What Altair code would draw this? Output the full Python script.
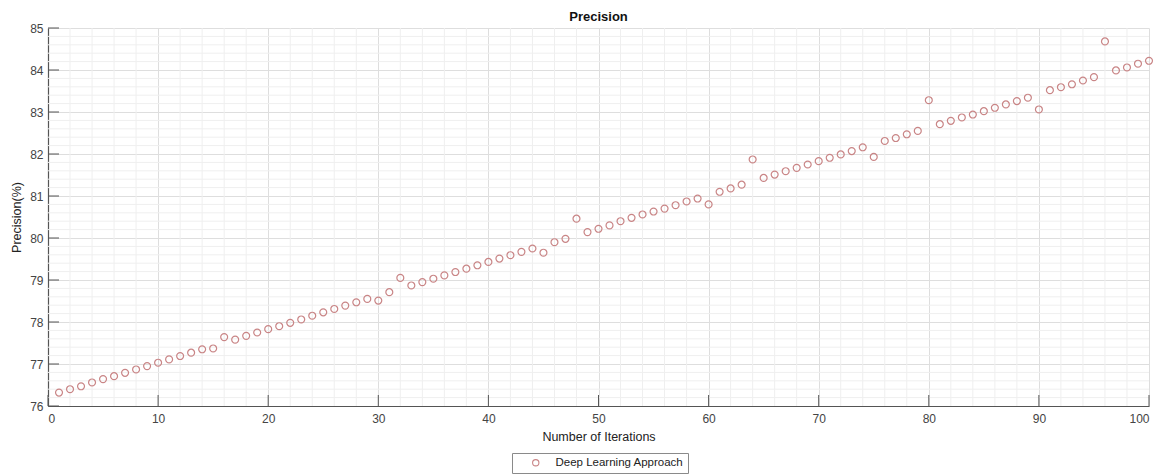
import altair as alt
import pandas as pd

iterations = list(range(1, 101))
precision = [
    76.32, 76.40, 76.47, 76.56, 76.64, 76.71, 76.79, 76.87, 76.95, 77.03,
    77.11, 77.19, 77.27, 77.35, 77.37, 77.64, 77.58, 77.67, 77.75, 77.83,
    77.90, 77.98, 78.06, 78.15, 78.23, 78.31, 78.39, 78.47, 78.55, 78.51,
    78.71, 79.05, 78.87, 78.95, 79.03, 79.11, 79.19, 79.27, 79.35, 79.43,
    79.51, 79.59, 79.67, 79.75, 79.65, 79.90, 79.98, 80.46, 80.14, 80.22,
    80.30, 80.40, 80.48, 80.56, 80.63, 80.70, 80.78, 80.87, 80.94, 80.80,
    81.10, 81.18, 81.27, 81.87, 81.43, 81.51, 81.59, 81.67, 81.75, 81.83,
    81.91, 81.99, 82.07, 82.16, 81.93, 82.31, 82.38, 82.47, 82.55, 83.28,
    82.71, 82.79, 82.87, 82.94, 83.02, 83.10, 83.18, 83.26, 83.34, 83.06,
    83.52, 83.59, 83.66, 83.75, 83.83, 84.68, 83.99, 84.06, 84.15, 84.22,
]
series_name = "Deep Learning Approach"

x_ticks = [0, 10, 20, 30, 40, 50, 60, 70, 80, 90, 100]
y_ticks = [76, 77, 78, 79, 80, 81, 82, 83, 84, 85]
x_minor = [v for v in range(2, 100, 2) if v % 10 != 0]
y_minor = [round(76 + i * 0.2, 1) for i in range(1, 45) if i % 5 != 0]

W, H = 1101, 378
AXIS_COL = "#555555"
FONT = "Liberation Sans"
XT = "Number of Iterations"
YT = "Precision(%)"

df = pd.DataFrame({"x": iterations, "y": precision, "s": [series_name] * len(iterations)})

xs = alt.Scale(domain=[0, 100], nice=False, zero=False)
ys = alt.Scale(domain=[76, 85], nice=False, zero=False)
xaxis = alt.Axis(values=x_ticks, grid=True, ticks=False, labelPadding=7,
                 titlePadding=6, format="d")
yaxis = alt.Axis(values=y_ticks, grid=True, ticks=False, labelPadding=5,
                 titlePadding=6, format="d")


def X():
    return alt.X("x:Q", scale=xs, title=XT, axis=xaxis)


def Y():
    return alt.Y("y:Q", scale=ys, title=YT, axis=yaxis)


minor_x = alt.Chart(pd.DataFrame({"x": x_minor})).mark_rule(
    color="#efefef", strokeWidth=1
).encode(x=X())

minor_y = alt.Chart(pd.DataFrame({"y": y_minor})).mark_rule(
    color="#efefef", strokeWidth=1
).encode(y=Y())

points = alt.Chart(df).mark_point(
    shape="circle", filled=False, size=48, strokeWidth=1.2, opacity=1
).encode(
    x=X(),
    y=Y(),
    color=alt.Color("s:N", scale=alt.Scale(range=["#c98586"]),
                    legend=alt.Legend(title=None, orient="none", legendX=464, legendY=425,
                                      strokeColor="#8a8a8a", fillColor="white",
                                      padding=4, symbolOffset=14, labelOffset=14,
                                      symbolSize=40, symbolStrokeWidth=1.1,
                                      labelFontSize=11.5, labelFont=FONT,
                                      labelColor="#222222", symbolType="circle")),
)

xtick_rules = alt.Chart(pd.DataFrame({"x": x_ticks})).mark_rule(
    color=AXIS_COL, strokeWidth=1
).encode(x=X(), y=alt.value(H), y2=alt.value(H - 11))

ytick_rules = alt.Chart(pd.DataFrame({"y": y_ticks})).mark_rule(
    color=AXIS_COL, strokeWidth=1
).encode(y=Y(), x=alt.value(0), x2=alt.value(11))

chart = alt.layer(minor_x, minor_y, points, xtick_rules, ytick_rules).properties(
    width=W, height=H,
    title=alt.TitleParams("Precision", fontSize=13, fontWeight="bold", font=FONT,
                          color="#111111", anchor="middle", offset=-2),
    autosize=alt.AutoSizeParams(type="none"),
    padding={"left": 48, "top": 28, "right": 14, "bottom": 68},
).configure_view(stroke=None).configure_axis(
    domainColor=AXIS_COL, domainWidth=1.2,
    gridColor="#dedede", gridWidth=1,
    labelFont=FONT, labelFontSize=12, labelColor="#444444",
    titleFont=FONT, titleFontSize=12.5, titleColor="#222222", titleFontWeight="normal",
)

chart.save("out.html", embed_options={"renderer": "svg", "actions": False})
